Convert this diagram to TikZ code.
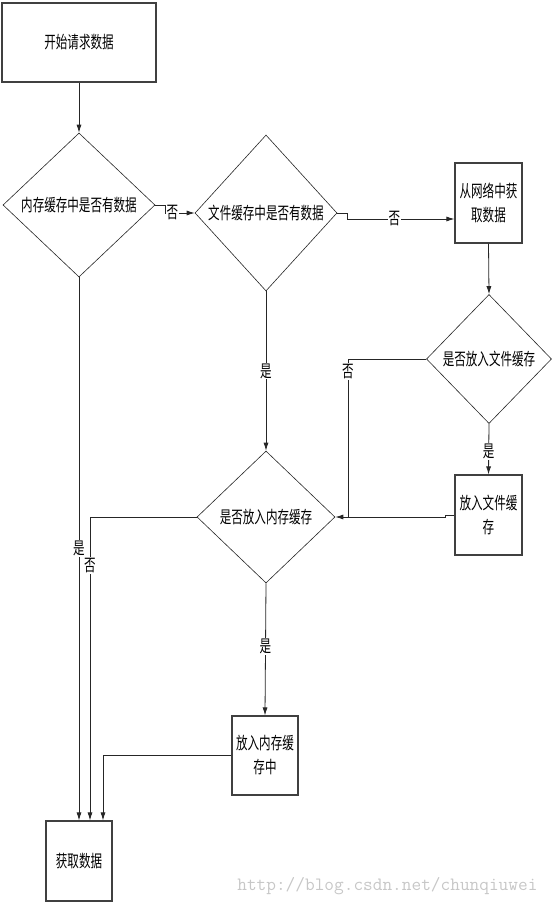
\documentclass[tikz,border=0pt]{standalone}
\usepackage{fontspec}
\usepackage{tikz}
\usetikzlibrary{positioning, arrows.meta, shapes.geometric}
\newfontfamily\cjk[FakeStretch=0.68]{Noto Sans CJK SC}

\begin{document}
\begin{tikzpicture}[x=1pt, y=-1pt]
	\tikzset{
		box/.style={rectangle, draw=black!75, line width=1.1pt, inner sep=1pt, align=center, font=\cjk\fontsize{17}{24}\selectfont},
		decide/.style={diamond, draw=black!85, line width=0.6pt, inner sep=0pt, aspect=1, align=center, font=\cjk\fontsize{17}{24}\selectfont},
		flow/.style={draw=black!85, line width=0.8pt, -{Latex[length=8pt, width=5pt]}},
		plain/.style={draw=black!85, line width=0.8pt},
		tag/.style={fill=white, inner sep=1pt, font=\cjk\fontsize{17}{20}\selectfont}
	}
	\useasboundingbox (0,0) rectangle (554,905);

	\node[box, minimum width=154pt, minimum height=79pt] (start) at (79,42.5) {开始请求数据};
	\node[decide, minimum width=152pt, minimum height=144pt] (dmem) at (79,205) {内存缓存中是否有数据};
	\node[decide, minimum width=142pt, minimum height=156pt] (dfile) at (266,213) {文件缓存中是否有数据};
	\node[box, minimum width=67pt, minimum height=80pt] (net) at (488.5,203) {从网络中获\\取数据};
	\node[decide, minimum width=125pt, minimum height=129pt] (dputfile) at (489,359) {是否放入文件缓存};
	\node[box, minimum width=67pt, minimum height=80pt] (putfile) at (488.5,515) {放入文件缓\\存};
	\node[decide, minimum width=138pt, minimum height=132pt] (dputmem) at (266,517) {是否放入内存缓存};
	\node[box, minimum width=66pt, minimum height=79pt] (putmem) at (265,755.5) {放入内存缓\\存中};
	\node[box, minimum width=66pt, minimum height=80pt] (get) at (79,861) {获取数据};
	\coordinate (join) at (348,517);

	\draw[flow] (start.south) -- (dmem.north);
	\draw[flow] (dmem.east) -- ++(10,0) |- (dfile.west) node[tag, pos=0.62] {否};
	\draw[flow] (dfile.east) -- ++(10,0) |- ([yshift=-16pt]net.west) node[tag, pos=0.72] {否};
	\draw[flow] (net.south) -- (dputfile.north);
	\draw[flow] (dputfile.south) -- (putfile.north) node[tag, pos=0.55] {是};
	\draw[plain] (dputfile.west) -| (join) node[tag, pos=0.54] {否};
	\draw[flow] (putfile.west) -- ++(-9,0) |- (dputmem.east);
	\draw[flow] (dfile.south) -- (dputmem.north) node[tag, pos=0.5] {是};
	\draw[flow] (dputmem.south) -- (putmem.north) node[tag, pos=0.48] {是};
	\draw[flow] (dmem.south) -- (get.north) node[tag, pos=0.5] {是};
	\draw[flow] (dputmem.west) -| ([xshift=11pt]get.north) node[tag, pos=0.58] {否};
	\draw[flow] (putmem.west) -| ([xshift=24pt]get.north);

	\node[anchor=east, text=black!22, font=\ttfamily\fontsize{18.8}{20}\selectfont] (mark) at (541,886) {http://blog.csdn.net/chunqiuwei};
\end{tikzpicture}
\end{document}
